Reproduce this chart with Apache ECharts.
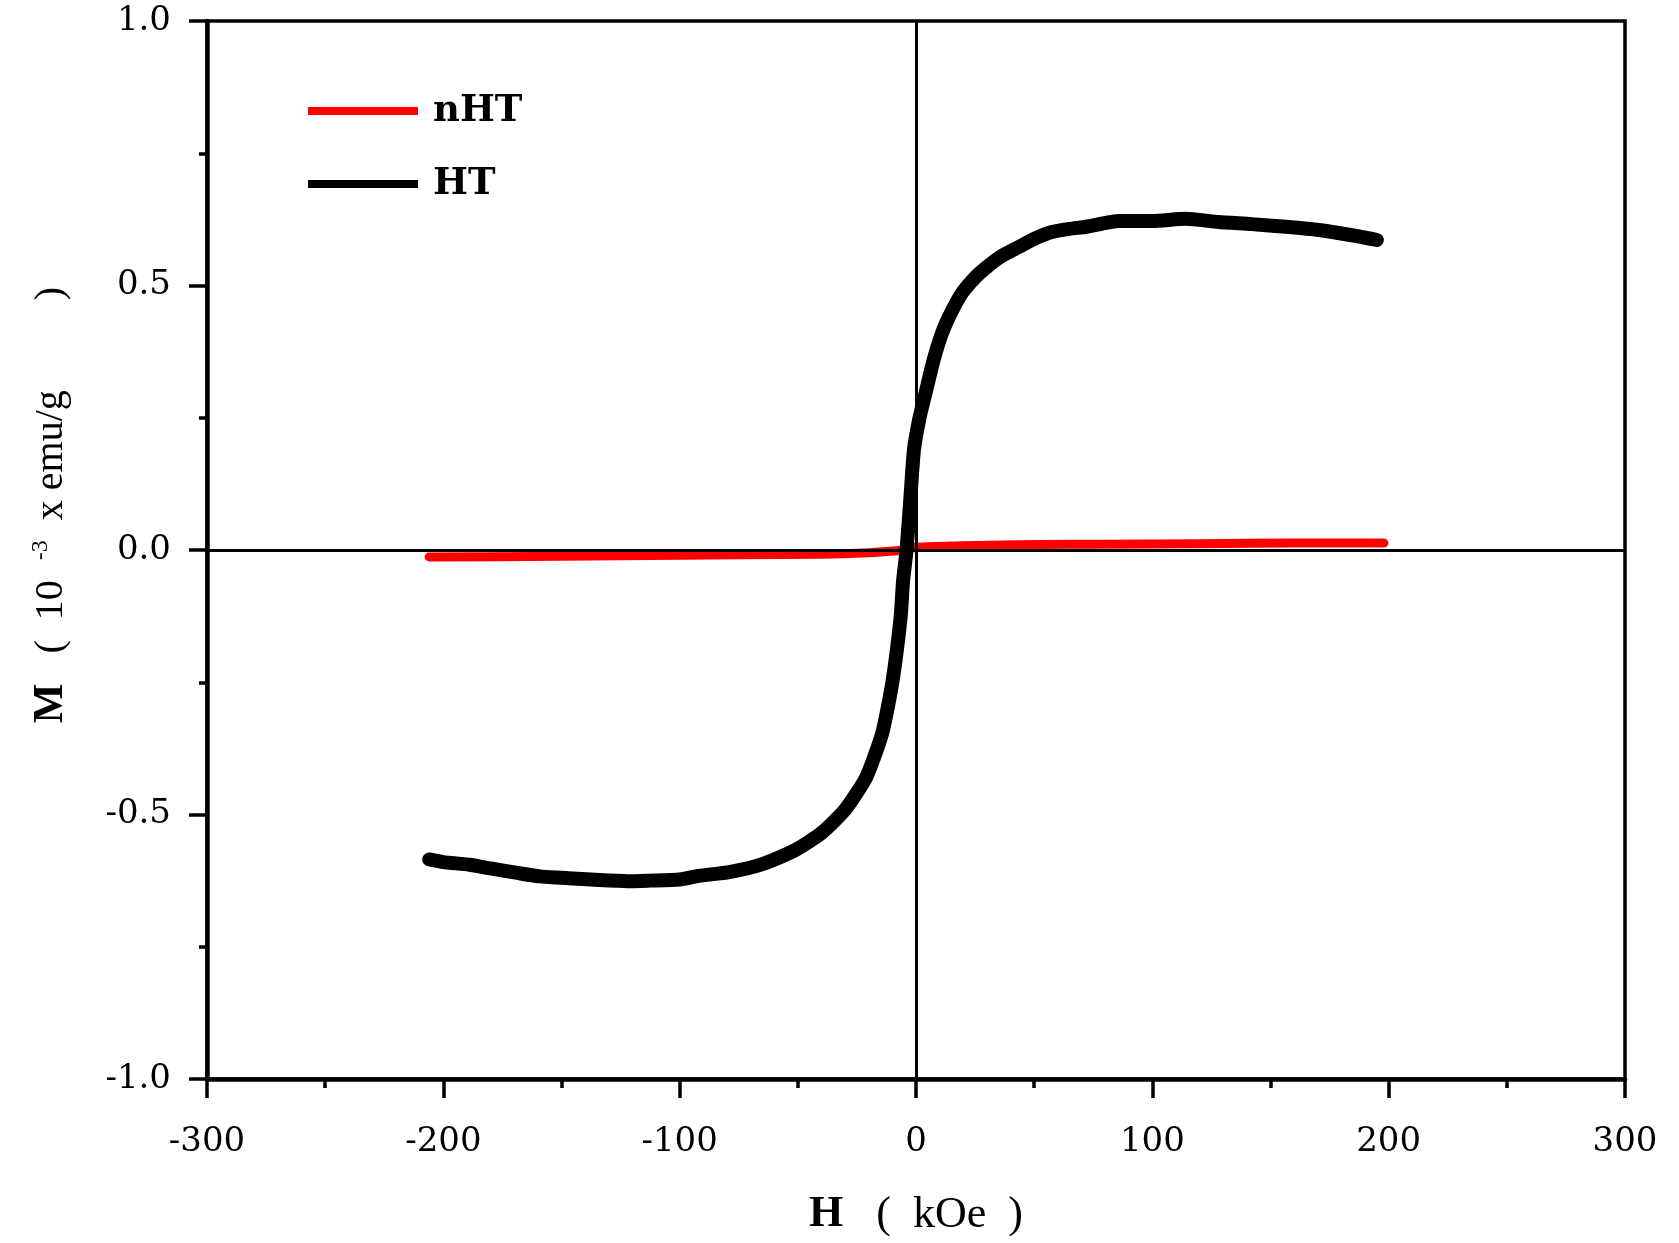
<!DOCTYPE html>
<html>
<head>
<meta charset="utf-8">
<title>M-H</title>
<script src="https://cdn.jsdelivr.net/npm/echarts@6/dist/echarts.min.js"></script>
<style>
  html, body { margin: 0; padding: 0; background: #fff; }
  #chart { width: 1679px; height: 1243px; }
</style>
</head>
<body>
<div id="chart"></div>
<script>
// H (kOe) and M (10^-3 emu/g)
const htH = [-206, -200, -189, -180, -168, -159, -145, -134, -122, -113, -100, -92, -79, -65, -51, -40, -30, -21, -14.3, -10, -6.5, -5.5, -4, -2.5, -0.85, 1.5, 4.2, 7.5, 11, 15, 19.5, 25, 30, 36, 43.6, 50, 57.5, 65, 72, 86, 100, 114, 128, 142, 156.5, 170.5, 184.5, 195];
const htM = [-0.585, -0.590, -0.595, -0.602, -0.611, -0.617, -0.621, -0.624, -0.626, -0.625, -0.623, -0.616, -0.609, -0.594, -0.567, -0.535, -0.491, -0.429, -0.346, -0.25, -0.127, -0.06, 0.0, 0.09, 0.19, 0.25, 0.30, 0.36, 0.41, 0.45, 0.486, 0.515, 0.535, 0.555, 0.573, 0.588, 0.601, 0.607, 0.611, 0.622, 0.622, 0.626, 0.620, 0.616, 0.611, 0.605, 0.595, 0.586];

const nhtH = [-206, -150, -100, -75, -40, -20, -7, 0, 20, 65, 77, 120, 160, 198];
const nhtM = [-0.013, -0.012, -0.010, -0.009, -0.008, -0.005, -0.001, 0.005, 0.008, 0.011, 0.011, 0.012, 0.013, 0.013];

const xTicks = { min: -300, max: 300, step: 100 };
const yTicks = { min: -1, max: 1, step: 0.5 };

const zip = (xs, ys) => xs.map((x, i) => [x, ys[i]]);

const chart = echarts.init(document.getElementById('chart'));

chart.setOption({
  backgroundColor: '#fff',
  animation: false,
  grid: {
    left: 207,
    right: 54,
    top: 21,
    bottom: 164,
    show: true,
    borderColor: '#000',
    borderWidth: 3.5
  },
  legend: {
    data: ['nHT', 'HT'],
    orient: 'vertical',
    left: 303,
    top: 87,
    icon: 'rect',
    itemWidth: 110,
    itemHeight: 8,
    itemGap: 35,
    textStyle: {
      fontFamily: 'DejaVu Serif',
      fontWeight: 'bold',
      fontSize: 37,
      color: '#000',
      lineHeight: 38,
      padding: [0, 0, 0, 10]
    }
  },
  xAxis: {
    type: 'value',
    min: xTicks.min,
    max: xTicks.max,
    interval: xTicks.step,
    name: '{b|H}{n|   (  kOe  )}',
    nameLocation: 'middle',
    nameGap: 114,
    nameTextStyle: {
      rich: {
        b: { fontFamily: 'Liberation Serif', fontWeight: 'bold', fontSize: 44, color: '#000' },
        n: { fontFamily: 'Liberation Serif', fontSize: 44, color: '#000' }
      }
    },
    axisLine: { onZero: false, lineStyle: { color: '#000', width: 4.5 } },
    axisTick: { inside: false, length: 19, lineStyle: { color: '#000', width: 3.5 } },
    minorTick: { show: true, splitNumber: 2, length: 9, lineStyle: { color: '#000', width: 3.5 } },
    splitLine: { show: false },
    axisLabel: {
      margin: 46,
      fontFamily: 'DejaVu Serif',
      fontSize: 34,
      color: '#000'
    }
  },
  yAxis: {
    type: 'value',
    min: yTicks.min,
    max: yTicks.max,
    interval: yTicks.step,
    name: '{b|M}{n|   (  10  }{s|-3}{n|  x emu/g         )}',
    nameLocation: 'middle',
    nameRotate: 90,
    nameGap: 134,
    nameTextStyle: {
      padding: [0, 0, 0, 90],
      rich: {
        b: { fontFamily: 'Liberation Serif', fontWeight: 'bold', fontSize: 42, color: '#000', lineHeight: 44 },
        n: { fontFamily: 'Liberation Serif', fontSize: 40, color: '#000', lineHeight: 44 },
        s: { fontFamily: 'Liberation Serif', fontSize: 24, color: '#000', lineHeight: 24, verticalAlign: 'top' }
      }
    },
    axisLine: { onZero: false, lineStyle: { color: '#000', width: 4.5 } },
    axisTick: { inside: false, length: 18, lineStyle: { color: '#000', width: 3.5 } },
    minorTick: { show: true, splitNumber: 2, length: 8, lineStyle: { color: '#000', width: 3.5 } },
    splitLine: { show: false },
    axisLabel: {
      margin: 36,
      fontFamily: 'DejaVu Serif',
      fontSize: 34,
      color: '#000',
      formatter: v => v.toFixed(1)
    }
  },
  series: [
    {
      name: 'zero',
      type: 'line',
      data: [],
      silent: true,
      markLine: {
        silent: true,
        symbol: 'none',
        label: { show: false },
        lineStyle: { color: '#000', width: 3, type: 'solid' },
        data: [{ xAxis: 0 }, { yAxis: 0 }]
      }
    },
    {
      name: 'nHT',
      type: 'line',
      data: zip(nhtH, nhtM),
      showSymbol: false,
      smooth: 0.2,
      itemStyle: { color: '#ff0000' },
      lineStyle: { color: '#ff0000', width: 9, cap: 'round' }
    },
    {
      name: 'HT',
      type: 'line',
      data: zip(htH, htM),
      showSymbol: false,
      smooth: 0.2,
      itemStyle: { color: '#000' },
      lineStyle: { color: '#000', width: 14, cap: 'round', join: 'round' }
    }
  ]
});

window.addEventListener('resize', () => chart.resize());
</script>
</body>
</html>
